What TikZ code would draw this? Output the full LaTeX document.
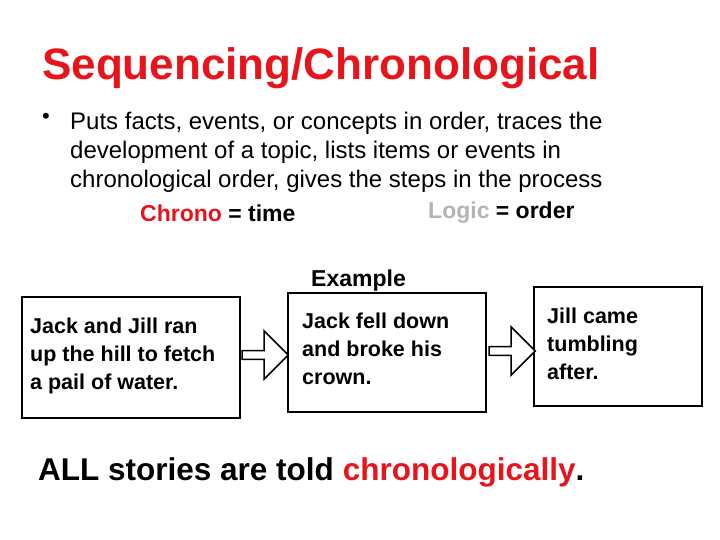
\documentclass[tikz,border=0pt]{standalone}
\usepackage{fontspec}
\setmainfont{Liberation Sans}
\usepackage{xcolor}
\definecolor{seqRed}{HTML}{E8141B}
\definecolor{seqGray}{HTML}{B4B4B4}
\usetikzlibrary{shapes.arrows,positioning}
\tikzset{
    story/.style={
        rectangle,
        align=left,
        anchor=north west,
        inner sep=0pt,
        font=\fontsize{21.5}{28}\selectfont\bfseries
    },
    storybox/.style={
        draw=black,
        line width=2pt
    },
    blockarrow/.style={
        single arrow,
        draw=black,
        fill=white,
        line width=1.5pt,
        minimum height=46pt,
        minimum width=48pt,
        single arrow head extend=12pt,
        inner sep=2pt
    },
    plain/.style={
        anchor=west,
        inner sep=0pt,
        font=\fontsize{#1}{#1}\selectfont\bfseries
    }
}
\begin{document}
\begin{tikzpicture}[x=1pt,y=-1pt]
    \useasboundingbox (0,0) rectangle (720,539);
    % Title
    \node[anchor=west, inner sep=0pt, text=seqRed,
        font=\fontsize{44}{44}\selectfont\bfseries] (title) at (42,68) {Sequencing/Chronological};
    % Bullet
    \node[anchor=north west, inner sep=0pt] (dot) at (42,113) {\fontsize{22}{29}\selectfont•};
    \node[anchor=north west, inner sep=0pt, align=left,
        font=\fontsize{24}{29}\selectfont] (bullet) at (70,112)
        {Puts facts, events, or concepts in order, traces the\\
         development of a topic, lists items or events in\\
         chronological order, gives the steps in the process};
    \node[plain=23] (chrono) at (140,213) {\textcolor{seqRed}{Chrono} = time};
    \node[plain=23] (logic) at (428,213) {\textcolor{seqGray}{Logic} = order};
    % Example
    \node[plain=23] (example) at (311,281) {Example};
    % Boxes
    \draw[storybox] (22,297) rectangle (240,418);
    \node[story] (jack) at (30,318) {Jack and Jill ran\\up the hill to fetch\\a pail of water.};
    \draw[storybox] (288,293) rectangle (486,412);
    \node[story] (fell) at (302,313) {Jack fell down\\and broke his\\crown.};
    \draw[storybox] (534,287) rectangle (702,406);
    \node[story] (jill) at (547,308) {Jill came\\tumbling\\after.};
    % Arrows
    \node[blockarrow] (arrA) at (263,355) {};
    \node[blockarrow] (arrB) at (510,351) {};
    % Closing line
    \node[plain=31.5] (closing) at (38,472) {ALL stories are told \textcolor{seqRed}{chronologically}.};
\end{tikzpicture}
\end{document}
